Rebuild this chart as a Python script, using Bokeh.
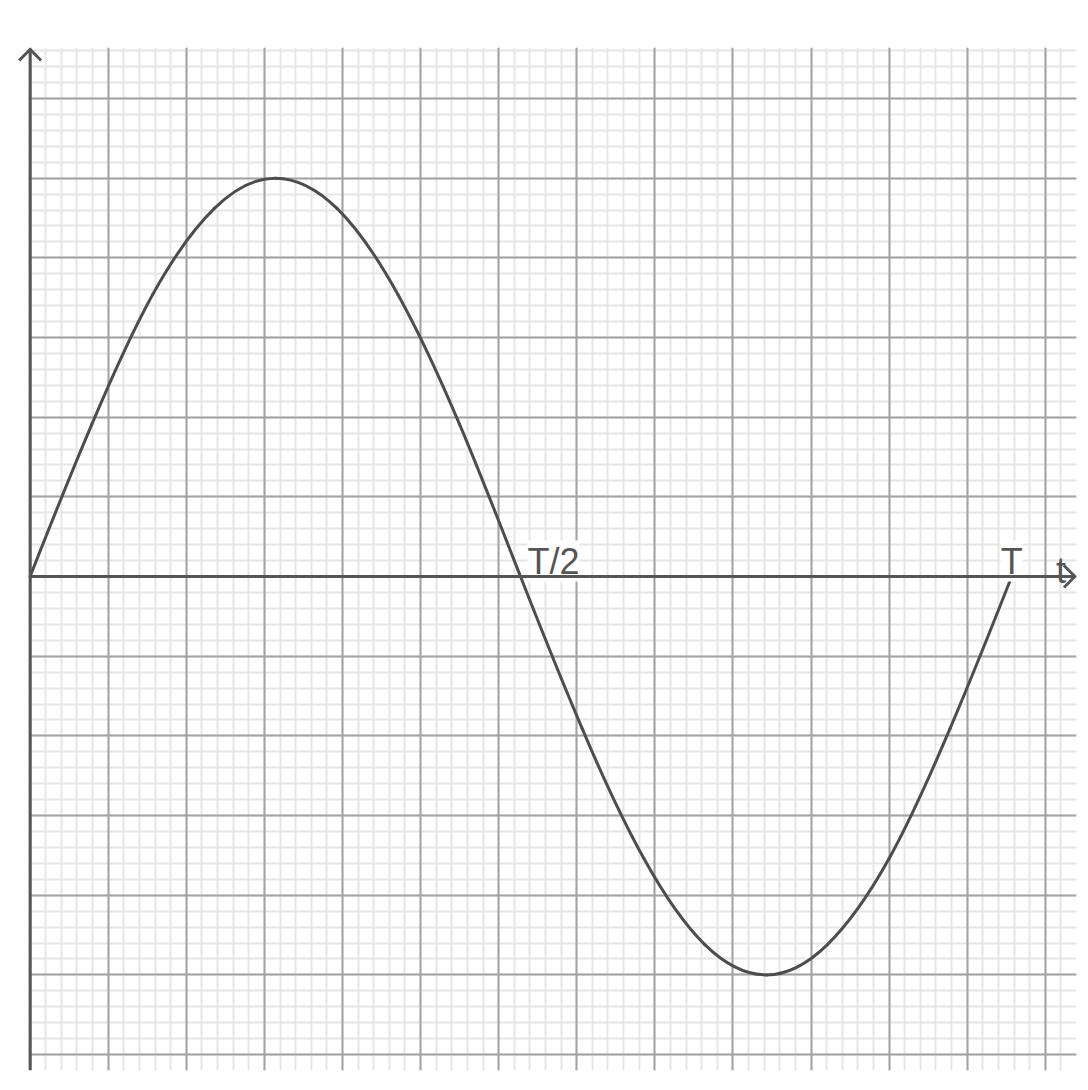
from bokeh.plotting import figure
from bokeh.models import Grid, SingleIntervalTicker
from bokeh.core.properties import value
from bokeh.embed import file_html
from bokeh.resources import INLINE

# knots of the curve (x: grid columns, y: grid rows)
# with the slope of the curve at each knot
t = [0.00, 0.79, 1.57, 2.36, 3.14, 3.93, 4.71, 5.50, 6.28,
     7.07, 7.86, 8.64, 9.43, 10.21, 11.00, 11.78, 12.57]
u = [0.00, 1.91, 3.54, 4.62, 5.00, 4.62, 3.54, 1.91, 0.00,
     -1.91, -3.54, -4.62, -5.00, -4.62, -3.54, -1.91, 0.00]
slope = [2.50, 2.31, 1.77, 0.96, 0.00, -0.96, -1.77, -2.31, -2.50,
         -2.31, -1.77, -0.96, 0.00, 0.96, 1.77, 2.31, 2.50]

period = 12.57
label_t = [period / 2, period]
label_text = ["T/2", "T"]
axis_name = "t"

X_MIN = -0.2
X_END = 13.38
Y_TOP = 6.615
Y_MIN = -6.2

ink = "#555555"

p = figure(x_range=(X_MIN, 13.4), y_range=(Y_MIN, 6.64),
           frame_width=1062, frame_height=1023,
           x_axis_type=None, y_axis_type=None,
           output_backend="svg", toolbar_location=None)
p.min_border = 0
p.min_border_left = 14
p.min_border_top = 47
p.min_border_right = 6
p.min_border_bottom = 12
p.outline_line_color = None
p.background_fill_color = "white"

# graph paper: minor lines first, major lines on top
for dim in (0, 1):
    g = Grid(dimension=dim, ticker=SingleIntervalTicker(interval=1, num_minor_ticks=5))
    g.grid_line_color = None
    g.minor_grid_line_color = "#e6e6e6"
    g.minor_grid_line_width = 2
    p.add_layout(g)
for dim in (0, 1):
    g = Grid(dimension=dim, ticker=SingleIntervalTicker(interval=1, num_minor_ticks=5))
    g.grid_line_color = "#a3a3a3"
    g.grid_line_width = 2
    p.add_layout(g)

# no paper left of the vertical axis
p.quad(left=[X_MIN - 0.5], right=[0], bottom=[Y_MIN - 0.5], top=[7.2],
       fill_color="white", line_color=None)

# the sine curve, as cubic pieces through the knots
x0, y0, x1, y1, cx0, cy0, cx1, cy1 = [], [], [], [], [], [], [], []
for i in range(len(t) - 1):
    h = (t[i + 1] - t[i]) / 3
    x0.append(t[i]); y0.append(u[i])
    x1.append(t[i + 1]); y1.append(u[i + 1])
    cx0.append(t[i] + h); cy0.append(u[i] + slope[i] * h)
    cx1.append(t[i + 1] - h); cy1.append(u[i + 1] - slope[i + 1] * h)
p.bezier(x0=x0, y0=y0, x1=x1, y1=y1, cx0=cx0, cy0=cy0, cx1=cx1, cy1=cy1,
         line_color="#4d4d4d", line_width=3, line_cap="round")

# labels (white box behind, under the axis line)
p.text(x=[label_t[0]], y=[0], text=[label_text[0]], x_offset=6.5, y_offset=-15.5,
       text_font=value("Liberation Sans"), text_font_size="36px", text_color=ink,
       text_align="left", text_baseline="alphabetic",
       background_fill_color="white")
p.text(x=[label_t[1]], y=[0], text=[label_text[1]], y_offset=-15.5,
       text_font=value("Liberation Sans"), text_font_size="36px", text_color=ink,
       text_align="center", text_baseline="alphabetic",
       background_fill_color="white")
p.text(x=[X_END], y=[0], text=[axis_name], x_offset=-14, y_offset=-6,
       text_font=value("Liberation Sans"), text_font_size="36px", text_color=ink,
       text_align="center", text_baseline="alphabetic")

# axes with open arrow heads
hx = 11 / 78.08
hy = 11 / 79.67
p.segment(x0=[0, 0], y0=[0, Y_MIN], x1=[X_END, 0], y1=[0, Y_TOP],
          line_color=ink, line_width=3)
p.multi_line(xs=[[-hx, 0, hx], [X_END - hx, X_END, X_END - hx]],
             ys=[[Y_TOP - hy, Y_TOP, Y_TOP - hy], [hy, 0, -hy]],
             line_color=ink, line_width=3, line_join="miter")

open("out.html", "w").write(file_html(p, INLINE))
